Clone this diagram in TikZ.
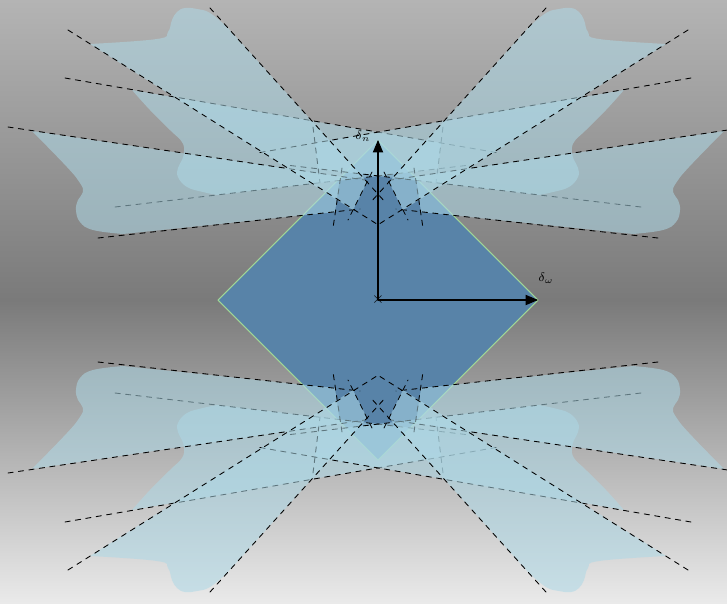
\documentclass[tikz,border=0pt]{standalone}
\usepackage{amssymb}
\usetikzlibrary{arrows}
\definecolor{fondhaut}{RGB}{180,180,180}
\definecolor{fondmil}{RGB}{122,122,122}
\definecolor{fondbas}{RGB}{234,234,234}
\definecolor{losange}{RGB}{88,131,168}
\definecolor{bordlos}{RGB}{160,215,150}
\definecolor{ailecol}{RGB}{173,216,230}
\tikzset{aile/.style={fill=ailecol,fill opacity=.55},
	bord/.style={dashed,line width=.5pt}}
\begin{document}
\begin{tikzpicture}[line cap=round,line join=round,>=triangle 45,x=0.02cm,y=0.02cm]
	%fond
	\useasboundingbox (-378.,-303.) rectangle (349.,300.);
	\clip (-378.,-303.) rectangle (349.,300.);
	\shade[top color=fondhaut,bottom color=fondmil] (-378.,0.) rectangle (349.,300.);
	\shade[top color=fondmil,bottom color=fondbas] (-378.,-303.) rectangle (349.,0.);
	\filldraw[fill=losange,draw=bordlos,line width=.6pt] (-160.,0.)-- (0.,160.)-- (160.,0.)-- (0.,-160.)-- cycle;
	%ailes du milieu
	\foreach \sx/\sy in {1/1,-1/1,1/-1,-1/-1}{
		\begin{scope}[xscale=\sx,yscale=\sy]
			\fill[aile] (-246.,210.)-- (63.,157.)-- (60.,131.)-- plot[smooth,tension=.7] coordinates {(-161.,105.) (-175.,108.) (-191.,113.) (-200.,123.) (-200.,132.) (-196.,140.) (-194.,148.) (-196.,158.) (-208.,170.) (-228.,190.) (-246.,210.)}-- cycle;
			\draw[bord] (-313.,222.)-- (121.,147.);
			\draw[bord] (-263.,93.)-- (92.,135.);
			\draw[bord] (65.,173.)-- (58.,117.);
		\end{scope}}
	%ailes basses
	\foreach \sx/\sy in {1/1,-1/1,1/-1,-1/-1}{
		\begin{scope}[xscale=\sx,yscale=\sy]
			\fill[aile] (-346.,169.)-- (-38.,123.5)-- (-43.,88.)-- plot[smooth,tension=.7] coordinates {(-255.,66.) (-285.,70.) (-298.,78.) (-302.,90.) (-300.,100.) (-295.,108.) (-298.,117.) (-311.,133.) (-346.,169.)}-- cycle;
			\draw[bord] (-370.,173.)-- (-13.,120.);
			\draw[bord] (-280.,62.)-- (-18.,91.);
			\draw[bord] (-36.,132.)-- (-45.,72.);
		\end{scope}}
	%ailes hautes
	\foreach \sx/\sy in {1/1,-1/1,1/-1,-1/-1}{
		\begin{scope}[xscale=\sx,yscale=\sy]
			\fill[aile] (-288.,256.)-- (-25.,90.)-- (-11.,118.)-- plot[smooth,tension=.7] coordinates {(-151.,273.) (-168.,287.) (-181.,291.) (-193.,292.) (-201.,288.) (-206.,280.) (-210.,268.) (-221.,261.) (-288.,256.)}-- cycle;
			\draw[bord] (-168.,292.)-- (8.,97.);
			\draw[bord] (-310.,270.)-- (2.,74.);
			\draw[bord] (-6.,128.)-- (-30.,80.);
		\end{scope}}
	%axes
	\coordinate (O) at (0.,0.);
	\coordinate (N) at (0.,160.);
	\coordinate (E) at (160.,0.);
	\draw[->,line width=.6pt] (O)-- (N);
	\draw[->,line width=.6pt] (O)-- (E);
	\node[scale=.9] (croix) at (O) {$\times$};
	\node[font=\scriptsize] (dn) at (-15.,164.) {$\delta_n$};
	\node[font=\scriptsize] (dw) at (168.,22.) {$\delta_\omega$};
\end{tikzpicture}
\end{document}
